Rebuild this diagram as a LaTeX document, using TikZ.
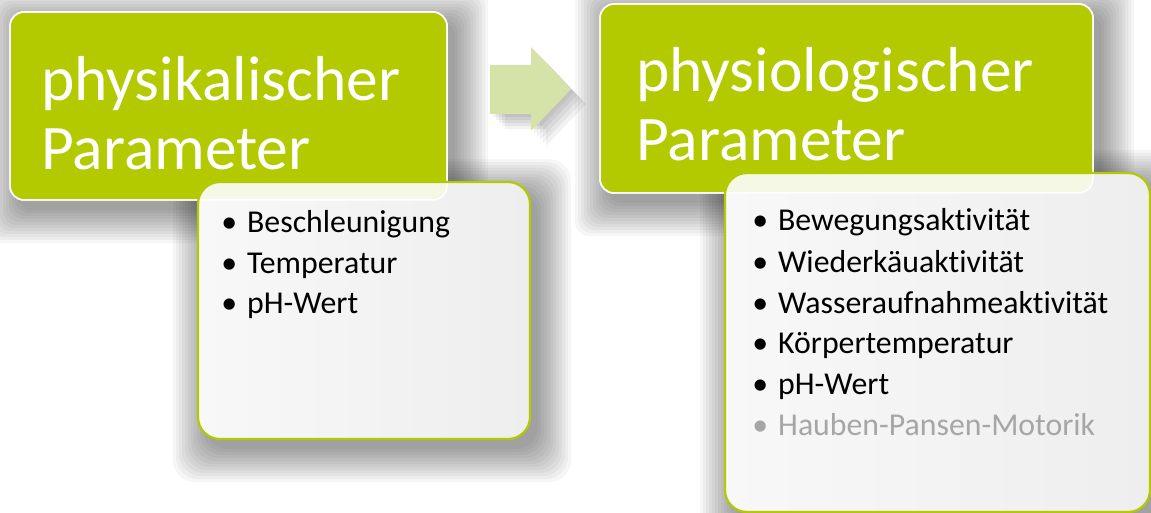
\documentclass[tikz,border=0pt]{standalone}
\usepackage{fontspec}
\setmainfont[Ligatures=CommonOff]{Carlito}
\definecolor{boxgreen}{RGB}{179,201,0}
\definecolor{arrowgreen}{RGB}{213,226,168}
\definecolor{subfillL}{RGB}{248,248,248}
\definecolor{subfillR}{RGB}{238,238,238}
\definecolor{tintgreen}{RGB}{244,248,229}
\definecolor{fadedtext}{RGB}{166,166,166}
\newcommand\myboxshadow[5]{%
  \foreach \e in {33,30,...,0}{%
    \fill[black, opacity=0.037, rounded corners=#5] ({#1+8-\e},{#2+10-\e}) rectangle ({#3+8+\e},{#4+10+\e});
  }}
\tikzset{
  titletext/.style={anchor=base west, inner sep=0pt, text=white, font=\fontsize{63.5}{69}\selectfont},
  itemtext/.style={anchor=base west, inner sep=0pt, text=black, font=\fontsize{31.8}{40}\selectfont},
  fadeditem/.style={itemtext, text=fadedtext},
  greenbox/.style={fill=boxgreen, draw=white, line width=1.5pt, rounded corners=14pt},
  subbox/.style={left color=subfillL, right color=subfillR, rounded corners=22pt},
  subborder/.style={draw=boxgreen, line width=2.2pt, rounded corners=22pt},
}
\newcommand\bul{\llap{\textbullet\hspace{10pt}}}
\begin{document}
\begin{tikzpicture}[x=1pt, y=-1pt]
\useasboundingbox (0,0) rectangle (1151,513);
\fill[white] (0,0) rectangle (1151,513);
% shadows
\myboxshadow{10}{12}{447}{200}{14pt}
\myboxshadow{198}{182}{530}{439}{22pt}
\myboxshadow{600}{4}{1093}{193}{14pt}
\myboxshadow{725}{173}{1150}{512}{22pt}
\foreach \d in {3,6,...,15}{
  \begin{scope}[shift={(\d,\d)}]
    \fill[black, opacity=0.05] (490,65) -- (531,65) -- (531,47) -- (571,89) -- (531,131) -- (531,114) -- (490,114) -- cycle;
  \end{scope}
}
% arrow
\fill[arrowgreen] (490,65) -- (531,65) -- (531,47) -- (571,89) -- (531,131) -- (531,114) -- (490,114) -- cycle;
% left group
\path[greenbox] (10,12) rectangle (447,200);
\shade[subbox] (198,182) rectangle (530,439);
\begin{scope}
  \clip[rounded corners=14pt] (10,12) rectangle (447,200);
  \fill[tintgreen, rounded corners=22pt] (198,182) rectangle (530,439);
\end{scope}
\draw[white, line width=1.5pt, rounded corners=14pt] (10,12) rectangle (447,200);
\path[subborder] (198,182) rectangle (530,439);
% right group
\path[greenbox] (600,4) rectangle (1093,193);
\shade[subbox] (725,173) rectangle (1150,512);
\begin{scope}
  \clip[rounded corners=14pt] (600,4) rectangle (1093,193);
  \fill[tintgreen, rounded corners=22pt] (725,173) rectangle (1150,512);
\end{scope}
\draw[white, line width=1.5pt, rounded corners=14pt] (600,4) rectangle (1093,193);
\path[subborder] (725,173) rectangle (1150,512);
% titles
\node[titletext] (t1a) at (41,101) {physikalischer};
\node[titletext] (t1b) at (41,170) {Parameter};
\node[titletext] (t2a) at (636,92) {physiologischer};
\node[titletext] (t2b) at (636,161) {Parameter};
% left items
\node[itemtext] (l1) at (247,233) {\bul Beschleunigung};
\node[itemtext] (l2) at (247,273) {\bul Temperatur};
\node[itemtext] (l3) at (247,313) {\bul pH-Wert};
% right items
\node[itemtext] (r1) at (778,231) {\bul Bewegungsaktivität};
\node[itemtext] (r2) at (778,272) {\bul Wiederkäuaktivität};
\node[itemtext] (r3) at (778,313) {\bul Wasseraufnahmeaktivität};
\node[itemtext] (r4) at (778,353) {\bul Körpertemperatur};
\node[itemtext] (r5) at (778,394) {\bul pH-Wert};
\node[fadeditem] (r6) at (778,435) {\bul Hauben-Pansen-Motorik};
\end{tikzpicture}
\end{document}
